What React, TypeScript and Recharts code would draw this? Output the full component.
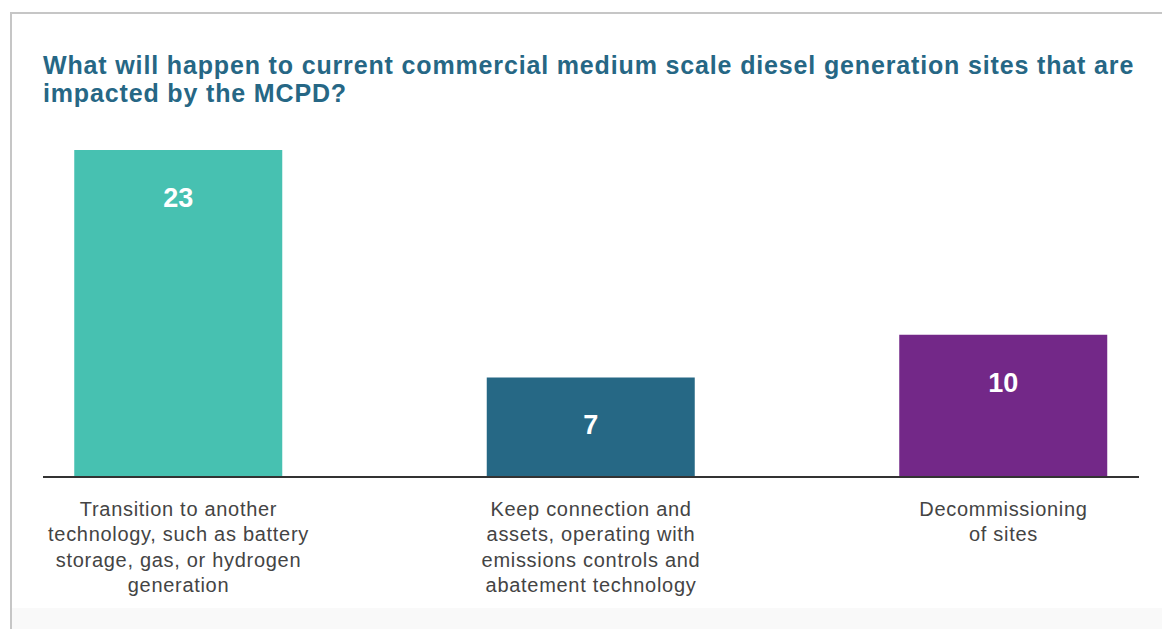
import { BarChart, Bar, XAxis, YAxis, Cell, LabelList } from 'recharts'

// ── Data ──────────────────────────────────────────────────────────────────────
const categories = [
  'Transition to another\ntechnology, such as battery\nstorage, gas, or hydrogen\ngeneration',
  'Keep connection and\nassets, operating with\nemissions controls and\nabatement technology',
  'Decommissioning\nof sites',
]
const siteCounts = [23, 7, 10]
const barColors = ['#47C1B1', '#266885', '#732888']

const data = categories.map((name, idx) => ({ idx, name, value: siteCounts[idx] }))

const FONT = "'Liberation Sans', Arial, Helvetica, sans-serif"

// ── Category tick, multi-line ─────────────────────────────────────────────────
interface TickProps {
  x?: number
  y?: number
  payload?: { value: number }
}

function CategoryTick({ x = 0, y = 0, payload }: TickProps) {
  const label = categories[payload?.value ?? 0] ?? ''
  const lines = label.split('\n')
  return (
    <text
      x={x}
      y={y}
      textAnchor="middle"
      fill="#444444"
      fontSize={20}
      letterSpacing={0.7}
      fontFamily={FONT}
    >
      {lines.map((line, i) => (
        <tspan key={i} x={x} dy={i === 0 ? 30.5 : 25.5}>
          {line}
        </tspan>
      ))}
    </text>
  )
}

// ── Value label inside bar ────────────────────────────────────────────────────
interface ValueLabelProps {
  x?: number
  y?: number
  width?: number
  value?: number
}

function ValueLabel({ x = 0, y = 0, width = 0, value }: ValueLabelProps) {
  return (
    <text
      x={Number(x) + Number(width) / 2}
      y={Number(y) + 57}
      textAnchor="middle"
      fill="#FFFFFF"
      fontSize={27}
      fontWeight={700}
      fontFamily={FONT}
    >
      {value}
    </text>
  )
}

export default function App() {
  return (
    <div style={{ position: 'absolute', left: 0, top: 0, width: 1162, height: 629, background: '#fff', overflow: 'hidden' }}>
      {/* frame */}
      <div style={{ position: 'absolute', left: 10, top: 12, width: 1200, height: 700, borderLeft: '2px solid #C6C6C6', borderTop: '2px solid #C6C6C6' }} />
      <div style={{ position: 'absolute', left: 12, top: 608, right: 0, bottom: 0, background: '#F9F9F9' }} />

      <div
        style={{
          position: 'absolute',
          left: 43,
          top: 51,
          fontFamily: FONT,
          fontWeight: 700,
          fontSize: 25,
          letterSpacing: 0.85,
          lineHeight: '28px',
          color: '#266785',
          whiteSpace: 'nowrap',
        }}
      >
        What will happen to current commercial medium scale diesel generation sites that are
        <br />
        impacted by the MCPD?
      </div>

      <div style={{ position: 'absolute', left: 0, top: 0 }}>
        <BarChart
          width={1162}
          height={629}
          data={data}
          margin={{ top: 150, right: 23, left: 43, bottom: 22 }}
        >
          <XAxis
            dataKey="idx"
            type="number"
            domain={[-0.3285, 2.3285]}
            ticks={[0, 1, 2]}
            allowDataOverflow
            interval={0}
            height={130}
            tickLine={false}
            axisLine={{ stroke: '#333333', strokeWidth: 2 }}
            tick={<CategoryTick />}
          />
          <YAxis hide domain={[0, 23]} />
          <Bar dataKey="value" barSize={208} isAnimationActive={false}>
            {data.map((entry, i) => (
              <Cell key={`cell-${i}`} fill={barColors[i]} />
            ))}
            <LabelList dataKey="value" content={<ValueLabel />} />
          </Bar>
        </BarChart>
      </div>
    </div>
  )
}
